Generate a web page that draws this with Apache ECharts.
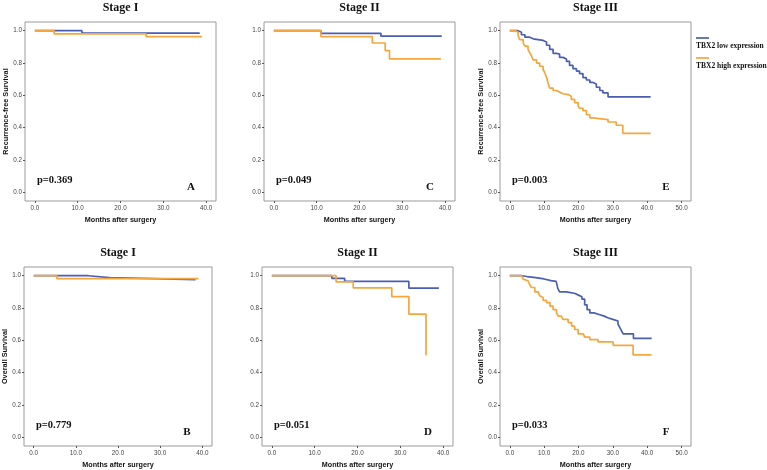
<!DOCTYPE html>
<html>
<head>
<meta charset="utf-8">
<script src="https://cdn.jsdelivr.net/npm/echarts@6/dist/echarts.min.js"></script>
<style>
html,body{margin:0;padding:0;background:#fff;}
#chart{width:767px;height:470px;}
</style>
</head>
<body>
<div id="chart"></div>
<script>
// ---------- data ----------
const seriesNames = ['TBX2 low expression', 'TBX2 high expression'];
const panelTitles = ['Stage I', 'Stage II', 'Stage III', 'Stage I', 'Stage II', 'Stage III'];
const pValues = ['p=0.369', 'p=0.049', 'p=0.003', 'p=0.779', 'p=0.051', 'p=0.033'];
const panelLetters = ['A', 'C', 'E', 'B', 'D', 'F'];
const yTitles = ['Recurrence-free Survival', '', 'Recurrence-free Survival', 'Overall Survival', '', 'Overall Survival'];
const xTitle = 'Months after surgery';
const xTicks40 = [0, 10, 20, 30, 40];
const xTicks50 = [0, 10, 20, 30, 40, 50];
const yTicks = [0, 0.2, 0.4, 0.6, 0.8, 1.0];

// A: RFS stage I
const rfs1LowTime  = [0, 11, 38.5];
const rfs1LowSurv  = [1, 0.985, 0.985];
const rfs1HighTime = [0, 4.5, 26, 39];
const rfs1HighSurv = [1, 0.98, 0.963, 0.963];
// C: RFS stage II
const rfs2LowTime  = [0, 11, 25, 39.2];
const rfs2LowSurv  = [1, 0.984, 0.966, 0.966];
const rfs2HighTime = [0, 11, 23, 26, 27, 39];
const rfs2HighSurv = [1, 0.963, 0.924, 0.877, 0.826, 0.826];
// E: RFS stage III
const rfs3LowTime  = [0, 2.4, 3.4, 4.4, 5.8, 6.8, 9.7, 10.7, 11.6, 12.6, 13.6, 14.5, 15.5, 16.5, 17.4, 18.4, 19.4, 20.3, 21.3, 22.3, 23.3, 24.2, 25.2, 26.2, 27.1, 28.6, 41];
const rfs3LowSurv  = [1, 0.99, 0.975, 0.96, 0.95, 0.94, 0.93, 0.91, 0.885, 0.86, 0.855, 0.835, 0.825, 0.81, 0.785, 0.765, 0.75, 0.735, 0.71, 0.695, 0.68, 0.67, 0.65, 0.63, 0.615, 0.59, 0.59];
const rfs3HighTime = [0, 1.7, 2.4, 2.9, 3.9, 4.4, 5.3, 5.8, 6.3, 6.8, 7.8, 8.7, 9.7, 10.2, 10.7, 11.1, 11.6, 12.6, 13.6, 14.5, 15.5, 17.0, 17.9, 18.9, 19.9, 20.3, 21.3, 22.3, 23.3, 24.2, 28.6, 31.0, 32.9, 41];
const rfs3HighSurv = [1, 0.99, 0.97, 0.945, 0.925, 0.905, 0.885, 0.865, 0.845, 0.82, 0.8, 0.78, 0.76, 0.74, 0.71, 0.68, 0.645, 0.63, 0.62, 0.61, 0.605, 0.595, 0.575, 0.555, 0.535, 0.52, 0.505, 0.48, 0.46, 0.45, 0.435, 0.415, 0.365, 0.365];
// B: OS stage I
const os1LowTime  = [0, 13, 18, 38.4];
const os1LowSurv  = [1, 0.988, 0.976, 0.976];
const os1HighTime = [0, 5.5, 39.1];
const os1HighSurv = [1, 0.982, 0.982];
// D: OS stage II
const os2LowTime  = [0, 14, 17, 32, 39];
const os2LowSurv  = [1, 0.984, 0.965, 0.923, 0.923];
const os2HighTime = [0, 15, 19, 28, 32, 36];
const os2HighSurv = [1, 0.962, 0.925, 0.871, 0.762, 0.508];
// F: OS stage III
const os3LowTime  = [0, 3.5, 5, 7, 8.5, 10, 12, 13.5, 14, 14.5, 16.5, 19, 20, 21, 21.8, 22.5, 23.3, 24.5, 26, 27.5, 28.5, 30, 31.5, 32, 32.5, 33, 36, 41.3];
const os3LowSurv  = [1, 0.995, 0.99, 0.985, 0.98, 0.97, 0.965, 0.955, 0.92, 0.9, 0.89, 0.88, 0.87, 0.855, 0.82, 0.79, 0.77, 0.76, 0.75, 0.74, 0.73, 0.72, 0.7, 0.68, 0.66, 0.64, 0.612, 0.612];
const os3HighTime = [0, 3.4, 3.9, 4.4, 5.3, 5.8, 6.3, 7.3, 8.3, 8.7, 9.2, 9.7, 10.7, 11.7, 12.6, 13.6, 14.1, 15, 15.5, 17, 18, 18.9, 19.9, 21.4, 21.8, 23.3, 25.7, 30.1, 35.9, 41.3];
const os3HighSurv = [1, 0.99, 0.979, 0.969, 0.958, 0.944, 0.927, 0.9, 0.888, 0.876, 0.865, 0.848, 0.833, 0.812, 0.79, 0.77, 0.75, 0.74, 0.73, 0.71, 0.688, 0.667, 0.64, 0.63, 0.62, 0.604, 0.59, 0.569, 0.51, 0.51];

// ---------- layout ----------
const boxes = [
  {left: 25,  top: 22,  width: 191, height: 179},
  {left: 264, top: 22,  width: 191, height: 179},
  {left: 500, top: 22,  width: 191, height: 179},
  {left: 24,  top: 267, width: 188, height: 180},
  {left: 262, top: 267, width: 191, height: 180},
  {left: 500, top: 267, width: 191, height: 180}
];
const panelData = [
  [[rfs1LowTime, rfs1LowSurv], [rfs1HighTime, rfs1HighSurv]],
  [[rfs2LowTime, rfs2LowSurv], [rfs2HighTime, rfs2HighSurv]],
  [[rfs3LowTime, rfs3LowSurv], [rfs3HighTime, rfs3HighSurv]],
  [[os1LowTime, os1LowSurv], [os1HighTime, os1HighSurv]],
  [[os2LowTime, os2LowSurv], [os2HighTime, os2HighSurv]],
  [[os3LowTime, os3LowSurv], [os3HighTime, os3HighSurv]]
];
const colors = ['#4a5fb3', '#f5a63c'];
const SANS = '"Liberation Sans", Arial, sans-serif';
const SERIF = '"Liberation Serif", "Times New Roman", serif';

const grids = [], xAxes = [], yAxes = [], series = [], graphics = [];
boxes.forEach((b, i) => {
  const wide = (i === 2 || i === 5);
  const xt = wide ? xTicks50 : xTicks40;
  const xmin = wide ? -2.85 : -2.3;
  const xmax = wide ? 52.75 : 42.3;
  grids.push({left: b.left, top: b.top, width: b.width, height: b.height,
    show: true, borderColor: '#9a9a9a', borderWidth: 1, backgroundColor: '#fff'});
  xAxes.push({type: 'value', gridIndex: i, min: xmin, max: xmax, position: 'bottom',
    name: xTitle, nameLocation: 'middle', nameGap: 16,
    nameTextStyle: {fontFamily: SANS, fontWeight: 'bold', fontSize: 7.2, color: '#111'},
    axisLine: {show: false, onZero: false}, splitLine: {show: false},
    axisTick: {show: true, length: 2, customValues: xt, lineStyle: {color: '#555'}},
    axisLabel: {customValues: xt, fontFamily: SANS, fontSize: 6.3, color: '#444', margin: 4,
      formatter: v => v.toFixed(1)}});
  yAxes.push({type: 'value', gridIndex: i, min: -0.054, max: 1.054, position: 'left',
    name: yTitles[i], nameLocation: 'middle', nameGap: 15, nameRotate: 90,
    nameTextStyle: {fontFamily: SANS, fontWeight: 'bold', fontSize: 7.3, color: '#111'},
    axisLine: {show: false, onZero: false}, splitLine: {show: false},
    axisTick: {show: true, length: 2, customValues: yTicks, lineStyle: {color: '#555'}},
    axisLabel: {customValues: yTicks, fontFamily: SANS, fontSize: 6.3, color: '#444', margin: 3,
      formatter: v => v.toFixed(1)}});
  panelData[i].forEach((pair, k) => {
    series.push({type: 'line', name: seriesNames[k], xAxisIndex: i, yAxisIndex: i,
      step: 'end', symbol: 'none', silent: true, animation: false,
      lineStyle: {color: colors[k], width: 1.7},
      data: pair[0].map((t, j) => [t, pair[1][j]])});
  });
  graphics.push({type: 'text', x: b.left + b.width / 2, y: b.top - 14,
    style: {text: panelTitles[i], font: 'bold 12px ' + SERIF, fill: '#111', align: 'center', verticalAlign: 'middle'}});
  graphics.push({type: 'text', x: b.left + 12, y: b.top + 158,
    style: {text: pValues[i], font: 'bold 10.5px ' + SERIF, fill: '#111', align: 'left', verticalAlign: 'middle'}});
  graphics.push({type: 'text', x: b.left + b.width - 25, y: b.top + 165,
    style: {text: panelLetters[i], font: 'bold 11px ' + SERIF, fill: '#111', align: 'center', verticalAlign: 'middle'}});
});

// legend (beside panel E)
[0, 1].forEach(k => {
  const y0 = 38 + k * 20;
  graphics.push({type: 'line', shape: {x1: 696, y1: y0, x2: 709, y2: y0},
    style: {stroke: colors[k], lineWidth: 1.7}});
  graphics.push({type: 'text', x: 696, y: y0 + 8,
    style: {text: seriesNames[k], font: 'bold 7.5px ' + SERIF, fill: '#111', align: 'left', verticalAlign: 'middle'}});
});

const chart = echarts.init(document.getElementById('chart'), null, {renderer: 'canvas'});
chart.setOption({
  backgroundColor: '#fff',
  animation: false,
  grid: grids, xAxis: xAxes, yAxis: yAxes, series: series,
  graphic: graphics
});
</script>
</body>
</html>
